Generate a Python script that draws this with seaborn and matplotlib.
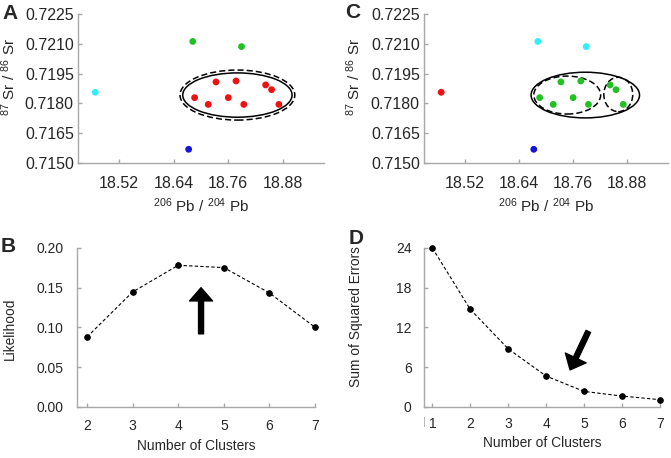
import matplotlib
matplotlib.use('Agg')
import matplotlib.pyplot as plt
from matplotlib.patches import Ellipse
import pandas as pd
import seaborn as sns

# isotope ratios of the samples
pb_ratio = [18.468, 18.682, 18.789, 18.673,
            18.686, 18.716, 18.733, 18.760, 18.777, 18.794, 18.842, 18.855, 18.871]
sr_ratio = [0.71856, 0.72112, 0.72086, 0.71569,
            0.71829, 0.71795, 0.71908, 0.71829, 0.71913, 0.71795, 0.71893, 0.71869, 0.71795]
group_a = ['c', 'g', 'g', 'b', 'r', 'r', 'r', 'r', 'r', 'r', 'r', 'r', 'r']
group_c = ['r', 'c', 'c', 'b', 'g', 'g', 'g', 'g', 'g', 'g', 'g', 'g', 'g']

# model selection curves
k_like = [2, 3, 4, 5, 6, 7]
likelihood = [0.0881, 0.1447, 0.1782, 0.1753, 0.1434, 0.1002]
k_sse = [1, 2, 3, 4, 5, 6, 7]
sse = [24.0, 14.73, 8.77, 4.66, 2.35, 1.65, 1.10]

pal = {'r': '#f01010', 'g': '#22c022', 'c': '#30eefa', 'b': '#1515d8'}
sr_ticks = [0.7150, 0.7165, 0.7180, 0.7195, 0.7210, 0.7225]
pb_ticks = [18.52, 18.64, 18.76, 18.88]

sns.set_style('white')
plt.rcParams['font.family'] = ['Liberation Sans', 'DejaVu Sans']
plt.rcParams['mathtext.fontset'] = 'custom'
plt.rcParams['mathtext.rm'] = 'Liberation Sans'
plt.rcParams['mathtext.it'] = 'Liberation Sans'

gray = '#a8a8a8'

fig = plt.figure(figsize=(6.71, 4.58), dpi=100)
axA = fig.add_axes([0.1162, 0.6441, 0.3666, 0.3253])
axC = fig.add_axes([0.6319, 0.6441, 0.3636, 0.3253])
axB = fig.add_axes([0.1148, 0.1114, 0.3547, 0.3472])
axD = fig.add_axes([0.6319, 0.1114, 0.3517, 0.3472])


def style(ax, size, xpad, ypad):
    sns.despine(ax=ax)
    for s in ['left', 'bottom']:
        ax.spines[s].set_color(gray)
        ax.spines[s].set_linewidth(1.0)
    ax.tick_params(direction='in', length=3, width=1.0, color=gray,
                   labelsize=size, left=True, bottom=True)
    ax.tick_params(axis='x', pad=xpad)
    ax.tick_params(axis='y', pad=ypad)


df = pd.DataFrame({'pb': pb_ratio, 'sr': sr_ratio, 'ga': group_a, 'gc': group_c})

for ax, col in [(axA, 'ga'), (axC, 'gc')]:
    sns.scatterplot(data=df, x='pb', y='sr', hue=col, palette=pal, s=24,
                    edgecolor='none', legend=False, ax=ax, zorder=3)
    ax.set_xlim(18.43, 18.97)
    ax.set_ylim(0.7150, 0.7225)
    ax.set_xticks(pb_ticks)
    ax.set_yticks(sr_ticks)
    ax.set_yticklabels([f'{v:.4f}' for v in sr_ticks])
    ax.set_xlabel(r'$^{206}$ Pb / $^{204}$ Pb', fontsize=11, labelpad=4)
    ax.set_ylabel(r'$^{87}$ Sr / $^{86}$ Sr', fontsize=11)
    style(ax, 11.5, 9, 3)
axA.yaxis.set_label_coords(-0.245, 0.577)
axC.yaxis.set_label_coords(-0.25, 0.577)

# cluster outlines
axA.add_patch(Ellipse((18.780, 0.71842), 0.240, 0.00223, fill=False, ec='black', lw=1.1))
axA.add_patch(Ellipse((18.780, 0.71842), 0.252, 0.00252, fill=False, ec='black', lw=1.1,
                      ls=(0, (4, 2))))
axC.add_patch(Ellipse((18.787, 0.71842), 0.240, 0.00230, fill=False, ec='black', lw=1.1))
axC.add_patch(Ellipse((18.747, 0.71842), 0.148, 0.00191, fill=False, ec='black', lw=1.1,
                      ls=(0, (4, 2))))
axC.add_patch(Ellipse((18.860, 0.71845), 0.064, 0.00173, fill=False, ec='black', lw=1.1,
                      ls=(0, (4, 2))))

line_kw = dict(color='black', lw=0.8, ls=(0, (3, 2)), marker='o', markersize=4,
               markeredgecolor='black', clip_on=False)
arrow_kw = dict(width=3.6, headwidth=16.5, headlength=9.5, shrink=0, color='black')

sns.lineplot(x=k_like, y=likelihood, ax=axB, **line_kw)
axB.set_xlim(1.78, 7.0)
axB.set_ylim(0, 0.20)
axB.set_xticks(k_like)
axB.set_yticks([0, 0.05, 0.10, 0.15, 0.20])
axB.set_yticklabels(['0.00', '0.05', '0.10', '0.15', '0.20'])
axB.set_xlabel('Number of Clusters', fontsize=9.9, labelpad=4)
axB.set_ylabel('Likelihood', fontsize=9.9)
style(axB, 10, 9, 10)
axB.yaxis.set_label_coords(-0.252, 0.49)
axB.annotate('', xy=(4.5, 0.150), xytext=(4.5, 0.092), arrowprops=arrow_kw)

sns.lineplot(x=k_sse, y=sse, ax=axD, **line_kw)
axD.set_xlim(0.78, 7.0)
axD.set_ylim(0, 24)
axD.set_xticks(k_sse)
axD.set_yticks([0, 6, 12, 18, 24])
axD.set_xlabel('Number of Clusters', fontsize=9.9, labelpad=4)
axD.set_ylabel('Sum of Squared Errors', fontsize=9.9)
style(axD, 10, 7, 9)
axD.yaxis.set_label_coords(-0.258, 0.566)
axD.annotate('', xy=(4.63, 5.6), xytext=(5.11, 11.4), arrowprops=arrow_kw)
fig.text(0.6325, 0.078, '|', fontsize=8, color='#b0b0b0', ha='center', va='center')

for txt, x, y in [('A', 0.003, 0.970), ('C', 0.514, 0.972),
                  ('B', 0.0015, 0.461), ('D', 0.519, 0.479)]:
    fig.text(x, y, txt, fontsize=15, fontweight='bold', ha='left', va='center')

fig.savefig('out.png', dpi=100)
